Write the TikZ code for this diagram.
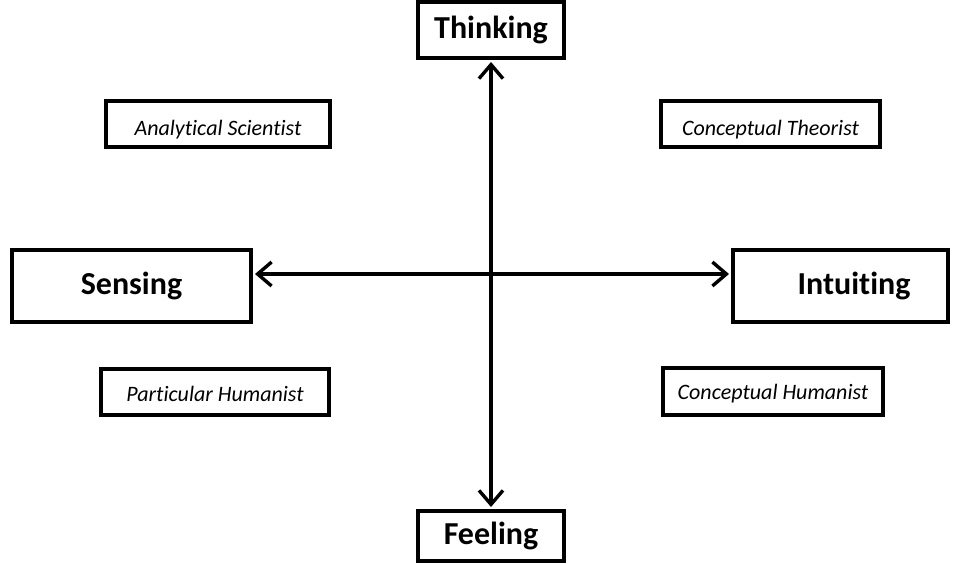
\documentclass[tikz,border=0pt]{standalone}
\usepackage{fontspec}
\setmainfont[RawFeature={-liga}]{Carlito}
\usetikzlibrary{arrows.meta}
\newcommand{\lowertxt}[2]{\raisebox{-#1}[\height][\depth]{#2}}
\tikzset{
  bigbox/.style={draw, line width=2pt, inner sep=0pt, font=\bfseries\fontsize{16}{19}\selectfont},
  smallbox/.style={draw, line width=2pt, inner sep=0pt, font=\itshape\fontsize{11}{13}\selectfont},
  arr/.style={line width=1.7pt, {Straight Barb[length=7pt,width=12pt,line width=1.7pt]}-{Straight Barb[length=7pt,width=12pt,line width=1.7pt]}, shorten <=1pt, shorten >=1pt}
}
\begin{document}
\begin{tikzpicture}[x=0.5pt,y=-0.5pt]
\useasboundingbox (0,0) rectangle (962,563);
\node[bigbox, minimum width=73pt, minimum height=28pt] (think) at (491,30) {Thinking};
\node[bigbox, minimum width=73pt, minimum height=25pt] (feel) at (491,536) {Feeling};
\node[bigbox, minimum width=119.5pt, minimum height=36pt] (sens) at (131.5,286) {Sensing};
\node[bigbox, minimum width=107.5pt, minimum height=36pt] (intu) at (840.5,286) {};
\node[font=\bfseries\fontsize{16}{19}\selectfont, inner sep=0pt] (intutext) at (854,286) {Intuiting};
\node[smallbox, minimum width=112pt, minimum height=23pt] (anal) at (218,124) {\lowertxt{3pt}{Analytical Scientist}};
\node[smallbox, minimum width=109.5pt, minimum height=23pt] (theo) at (770.5,124) {\lowertxt{3pt}{Conceptual Theorist}};
\node[smallbox, minimum width=114pt, minimum height=23pt] (part) at (215,392) {\lowertxt{1pt}{Particular Humanist}};
\node[smallbox, minimum width=110pt, minimum height=23.5pt] (hum) at (773,391.5) {\lowertxt{1pt}{Conceptual Humanist}};
\draw[arr] (think.south) -- (feel.north);
\draw[arr] ([yshift=6pt]sens.east) -- ([yshift=6pt]intu.west);
\end{tikzpicture}
\end{document}
